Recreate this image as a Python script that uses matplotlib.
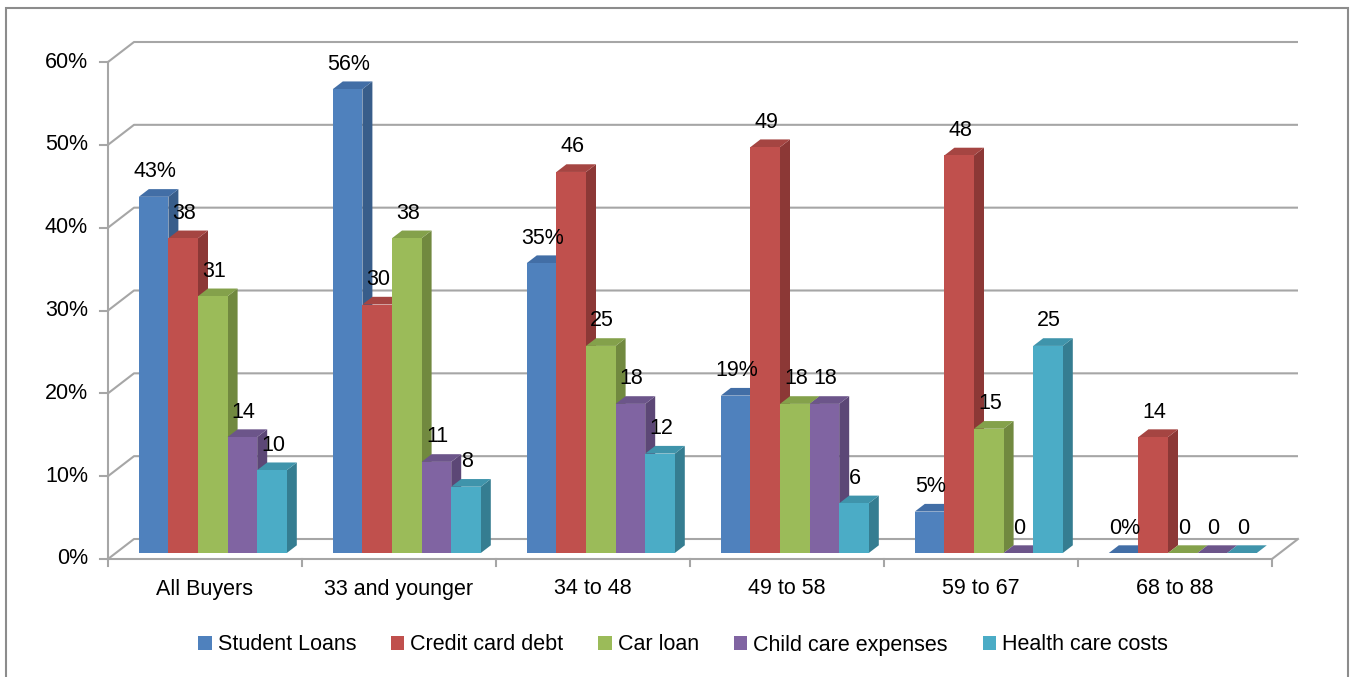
import matplotlib
matplotlib.use("Agg")
import matplotlib.pyplot as plt
from matplotlib.patches import Polygon, Patch, Rectangle

# ---------------- data ----------------
categories = ["All Buyers", "33 and younger", "34 to 48", "49 to 58", "59 to 67", "68 to 88"]
series_names = ["Student Loans", "Credit card debt", "Car loan", "Child care expenses", "Health care costs"]
student_loans = [43, 56, 35, 19, 5, 0]
credit_card_debt = [38, 30, 46, 49, 48, 14]
car_loan = [31, 38, 25, 18, 15, 0]
child_care = [14, 11, 18, 18, 0, 0]
health_care = [10, 8, 12, 6, 25, 0]
series_values = [student_loans, credit_card_debt, car_loan, child_care, health_care]
y_ticks = [0, 10, 20, 30, 40, 50, 60]
y_tick_labels = ["0%", "10%", "20%", "30%", "40%", "50%", "60%"]

# ---------------- style ----------------
front_colors = ["#4F81BD", "#C0504D", "#9BBB59", "#8064A2", "#4BACC6"]
side_colors = ["#385D8A", "#8C3836", "#71893F", "#5C4776", "#357D91"]
top_colors = ["#426EA6", "#A54542", "#84A14B", "#6C558A", "#3F94AB"]
grid_color = "#A6A6A6"
FONT = "Liberation Sans"
FS = 15.5

W, H = 1351, 677
fig = plt.figure(figsize=(W / 100, H / 100), dpi=100)
ax = fig.add_axes([0, 0, 1, 1])
ax.set_axis_off()

# scale geometry (pixels per unit)
PX_CAT = 194.0          # px per category
PX_PCT = 497.0 / 60.0   # px per percent
X0_PX, Y0_PX = 108.0, 559.0
ax.set_xlim(-X0_PX / PX_CAT, (W - X0_PX) / PX_CAT)
ax.set_ylim((Y0_PX - H) / PX_PCT, Y0_PX / PX_PCT)

DX = 26.0 / PX_CAT      # depth offset in category units
DY = 20.0 / PX_PCT      # depth offset in percent units
ncat = len(categories)


def P(x, v, d):
    return (x + d * DX, v + d * DY)


lw = 1.5
# walls / gridlines
for t in y_ticks:
    ax.plot(*zip(P(0, t, 0), P(0, t, 1), P(ncat, t, 1)), color=grid_color, lw=lw, zorder=1,
            solid_capstyle="butt")
    ax.plot([-8 / PX_CAT, 0], [t, t], color=grid_color, lw=lw, zorder=1)
# front vertical axis
ax.plot([0, 0], [0, y_ticks[-1]], color=grid_color, lw=lw, zorder=1)
# floor edges
ax.plot(*zip(P(0, 0, 0), P(ncat, 0, 0), P(ncat, 0, 1)), color=grid_color, lw=lw, zorder=1)
for i in range(ncat + 1):
    ax.plot([i, i], [0, -7 / PX_PCT], color=grid_color, lw=lw, zorder=1)

# y tick labels
for t, lab in zip(y_ticks, y_tick_labels):
    ax.text(-20 / PX_CAT, t, lab, ha="right", va="center", fontsize=FS, family=FONT, color="black")

# category labels
for i, c in enumerate(categories):
    ax.text(i + 0.5, -30 / PX_PCT, c, ha="center", va="center", fontsize=FS, family=FONT, color="black")

# bars
nser = len(series_values)
bw = 29.6 / PX_CAT
gap_half = (1 - nser * bw) / 2
df, db = 0.3, 0.3 + 10.0 / 26.0
z = 3
for g in range(ncat):
    for s in range(nser):
        v = series_values[s][g]
        xl = g + gap_half + s * bw
        xr = xl + bw
        front = [P(xl, 0, df), P(xr, 0, df), P(xr, v, df), P(xl, v, df)]
        side = [P(xr, 0, df), P(xr, 0, db), P(xr, v, db), P(xr, v, df)]
        top = [P(xl, v, df), P(xr, v, df), P(xr, v, db), P(xl, v, db)]
        ax.add_patch(Polygon(side, closed=True, facecolor=side_colors[s], edgecolor="none", zorder=z))
        ax.add_patch(Polygon(top, closed=True, facecolor=top_colors[s], edgecolor="none", zorder=z))
        ax.add_patch(Polygon(front, closed=True, facecolor=front_colors[s], edgecolor="none", zorder=z))
        z += 0.01
        lab = f"{v}%" if s == 0 else f"{v}"
        cx, cy = P((xl + xr) / 2, v, df)
        ax.text(cx + 1 / PX_CAT, cy + 25 / PX_PCT, lab, ha="center", va="center", fontsize=FS,
                family=FONT, color="black", zorder=10)

# legend
handles = [Patch(facecolor=c, edgecolor="none") for c in front_colors]
leg = ax.legend(handles, series_names, loc="center", bbox_to_anchor=(683 / W, 1 - 645 / H),
                bbox_transform=fig.transFigure, ncol=5, frameon=False,
                prop={"family": FONT, "size": FS}, handlelength=0.62, handleheight=0.62,
                handletextpad=0.28, columnspacing=1.62, borderpad=0, borderaxespad=0)

# outer frame
fig.patches.append(Rectangle((6 / W, -0.05), (1348 - 6) / W, 1.05 - 8 / H, transform=fig.transFigure,
                             facecolor="none", edgecolor="#8C8C8C", lw=1.5, zorder=0))

fig.savefig("out.png", dpi=100)
